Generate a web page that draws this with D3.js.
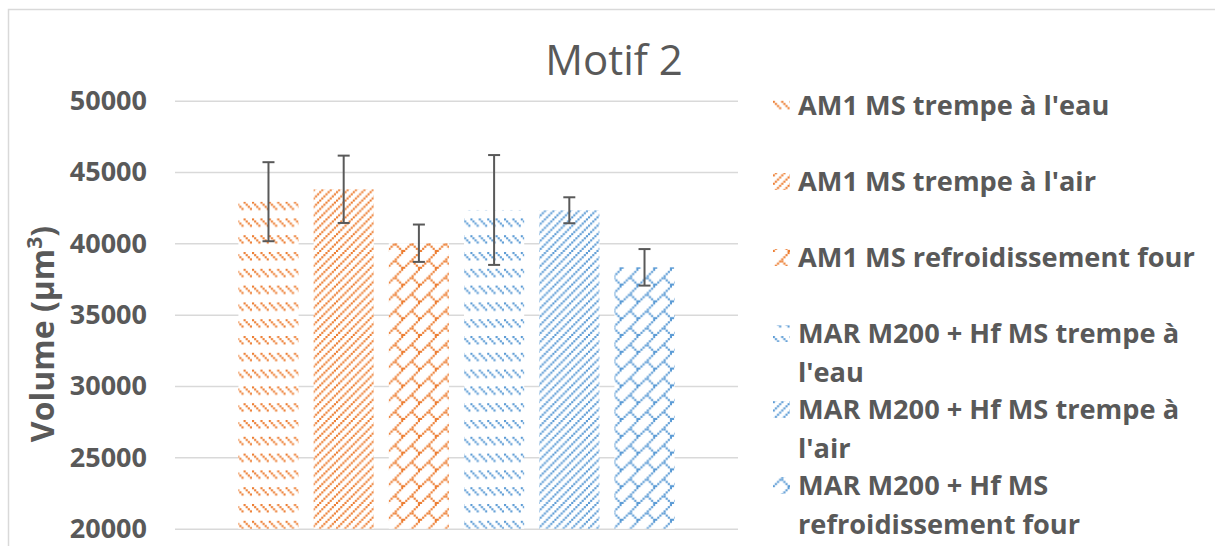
<!DOCTYPE html>
<html>
<head>
<meta charset="utf-8">
<script src="https://cdn.jsdelivr.net/npm/d3@7"></script>
<style>
  html, body { margin: 0; padding: 0; background: #fff; }
  svg { display: block; font-family: "Open Sans", sans-serif; }
</style>
</head>
<body>
<svg id="chart" width="1215" height="546"></svg>
<script>
// Series (one bar each, single category)
const seriesNames = [
  "AM1 MS trempe à l'eau",
  "AM1 MS trempe à l'air",
  "AM1 MS refroidissement four",
  "MAR M200 + Hf MS trempe à l'eau",
  "MAR M200 + Hf MS trempe à l'air",
  "MAR M200 + Hf MS refroidissement four"
];
// Mean volume (µm³) and error (±) per series
const volumes = [42920, 43790, 40010, 42340, 42320, 38320];
const errors  = [2770, 2360, 1310, 3850, 910, 1280];
// Value axis ticks
const yTicks = [20000, 25000, 30000, 35000, 40000, 45000, 50000];

const chartTitle = "Motif 2";
const yAxisTitle = "Volume (µm";

// Styling per series
const seriesColors = ["#ED7D31", "#ED7D31", "#ED7D31", "#5B9BD5", "#5B9BD5", "#5B9BD5"];
const seriesHatch  = ["dashDnDiag", "ltUpDiag", "diagBrick", "dashDnDiag", "ltUpDiag", "diagBrick"];

// 8x8 hatch bitmaps
const hatchBitmaps = {
  dashDnDiag: [
    "X...X...",
    ".X...X..",
    "..X...X.",
    "...X...X",
    "........",
    "........",
    "........",
    "........"
  ],
  ltUpDiag: [
    "...X...X",
    "..X...X.",
    ".X...X..",
    "X...X...",
    "...X...X",
    "..X...X.",
    ".X...X..",
    "X...X..."
  ],
  diagBrick: [
    ".......X",
    "......X.",
    ".....X..",
    "....X...",
    "...XX...",
    "..X..X..",
    ".X....X.",
    "X......X"
  ]
};

const W = 1215, H = 546;
const plot = { left: 175, right: 738, top: 100.7, bottom: 528.7 };
const textColor = "#595959";
const gridColor = "#d9d9d9";

const svg = d3.select("#chart");
const defs = svg.append("defs");

// Hatch patterns, one per series
const unit = 2.1, tile = unit * 8;
seriesNames.forEach((name, i) => {
  const p = defs.append("pattern")
    .attr("id", "hatch" + i)
    .attr("patternUnits", "userSpaceOnUse")
    .attr("width", tile).attr("height", tile);
  p.append("rect").attr("width", tile).attr("height", tile).attr("fill", "#fff");
  const cells = [];
  hatchBitmaps[seriesHatch[i]].forEach((row, r) => {
    row.split("").forEach((c, k) => { if (c === "X") cells.push([k, r]); });
  });
  p.selectAll("rect.px").data(cells).join("rect")
    .attr("class", "px")
    .attr("x", d => d[0] * unit).attr("y", d => d[1] * unit)
    .attr("width", unit).attr("height", unit)
    .attr("fill", seriesColors[i]);
});

// Chart area border
svg.append("rect")
  .attr("x", 8.5).attr("y", 9.5)
  .attr("width", W + 20).attr("height", H + 20)
  .attr("fill", "none").attr("stroke", gridColor).attr("stroke-width", 1.5);

// Scales
const x = d3.scaleBand()
  .domain(seriesNames)
  .range([plot.left, plot.right])
  .paddingInner(0.2)
  .paddingOuter(0.843);

const y = d3.scaleLinear()
  .domain([20000, 50000])
  .range([plot.bottom, plot.top]);

// Gridlines + tick labels
const yAxis = svg.append("g")
  .attr("transform", `translate(${plot.left},0)`)
  .call(d3.axisLeft(y)
    .tickValues(yTicks)
    .tickFormat(d3.format("d"))
    .tickSize(-(plot.right - plot.left))
    .tickPadding(28));
yAxis.select(".domain").remove();
yAxis.selectAll(".tick line").attr("stroke", gridColor).attr("stroke-width", 1.5);
yAxis.selectAll(".tick text")
  .attr("fill", textColor)
  .attr("font-family", "'Open Sans', sans-serif")
  .attr("font-weight", "bold")
  .attr("font-size", 27);

// Bars
svg.append("g").selectAll("rect")
  .data(seriesNames)
  .join("rect")
  .attr("x", d => x(d))
  .attr("width", x.bandwidth())
  .attr("y", (d, i) => y(volumes[i]))
  .attr("height", (d, i) => y(20000) - y(volumes[i]))
  .attr("fill", (d, i) => `url(#hatch${i})`);

// Error bars
const capHalf = 6;
const eb = svg.append("g")
  .attr("stroke", "#595959").attr("stroke-width", 2).attr("fill", "none");
seriesNames.forEach((name, i) => {
  const cx = x(name) + x.bandwidth() / 2;
  const yTop = y(volumes[i] + errors[i]);
  const yBot = y(volumes[i] - errors[i]);
  eb.append("line").attr("x1", cx).attr("x2", cx).attr("y1", yTop).attr("y2", yBot);
  eb.append("line").attr("x1", cx - capHalf).attr("x2", cx + capHalf).attr("y1", yTop).attr("y2", yTop);
  eb.append("line").attr("x1", cx - capHalf).attr("x2", cx + capHalf).attr("y1", yBot).attr("y2", yBot);
});

// Title
svg.append("text")
  .attr("x", 614).attr("y", 75)
  .attr("text-anchor", "middle")
  .attr("fill", textColor)
  .attr("font-size", 42)
  .text(chartTitle);

// Value axis title
const yt = svg.append("text")
  .attr("transform", "translate(54,334) rotate(-90)")
  .attr("text-anchor", "middle")
  .attr("fill", textColor)
  .attr("font-weight", "bold")
  .attr("font-size", 32);
yt.append("tspan").text(yAxisTitle);
yt.append("tspan").attr("dy", -12).attr("font-size", 21).text("3");
yt.append("tspan").attr("dy", 12).text(")");

// Legend
const legendX = 798, swatchX = 773, swatchSize = 17;
const legendFont = 27.2, lineH = 38.5, maxW = 410;
let baseline = 115;
const legend = svg.append("g")
  .attr("fill", textColor)
  .attr("font-weight", "bold")
  .attr("font-size", legendFont);

seriesNames.forEach((name, i) => {
  legend.append("rect")
    .attr("x", swatchX).attr("y", baseline - 18)
    .attr("width", swatchSize).attr("height", swatchSize)
    .attr("fill", `url(#hatch${i})`);
  const t = legend.append("text").attr("x", legendX).attr("y", baseline);
  // word wrap to the legend width
  const words = name.split(" ");
  let line = [];
  let ts = t.append("tspan").attr("x", legendX).attr("dy", 0);
  words.forEach(w => {
    line.push(w);
    ts.text(line.join(" "));
    if (ts.node().getComputedTextLength() > maxW && line.length > 1) {
      line.pop();
      ts.text(line.join(" "));
      line = [w];
      ts = t.append("tspan").attr("x", legendX).attr("dy", lineH).text(w);
    }
  });
  baseline += 76;
});
</script>
</body>
</html>
